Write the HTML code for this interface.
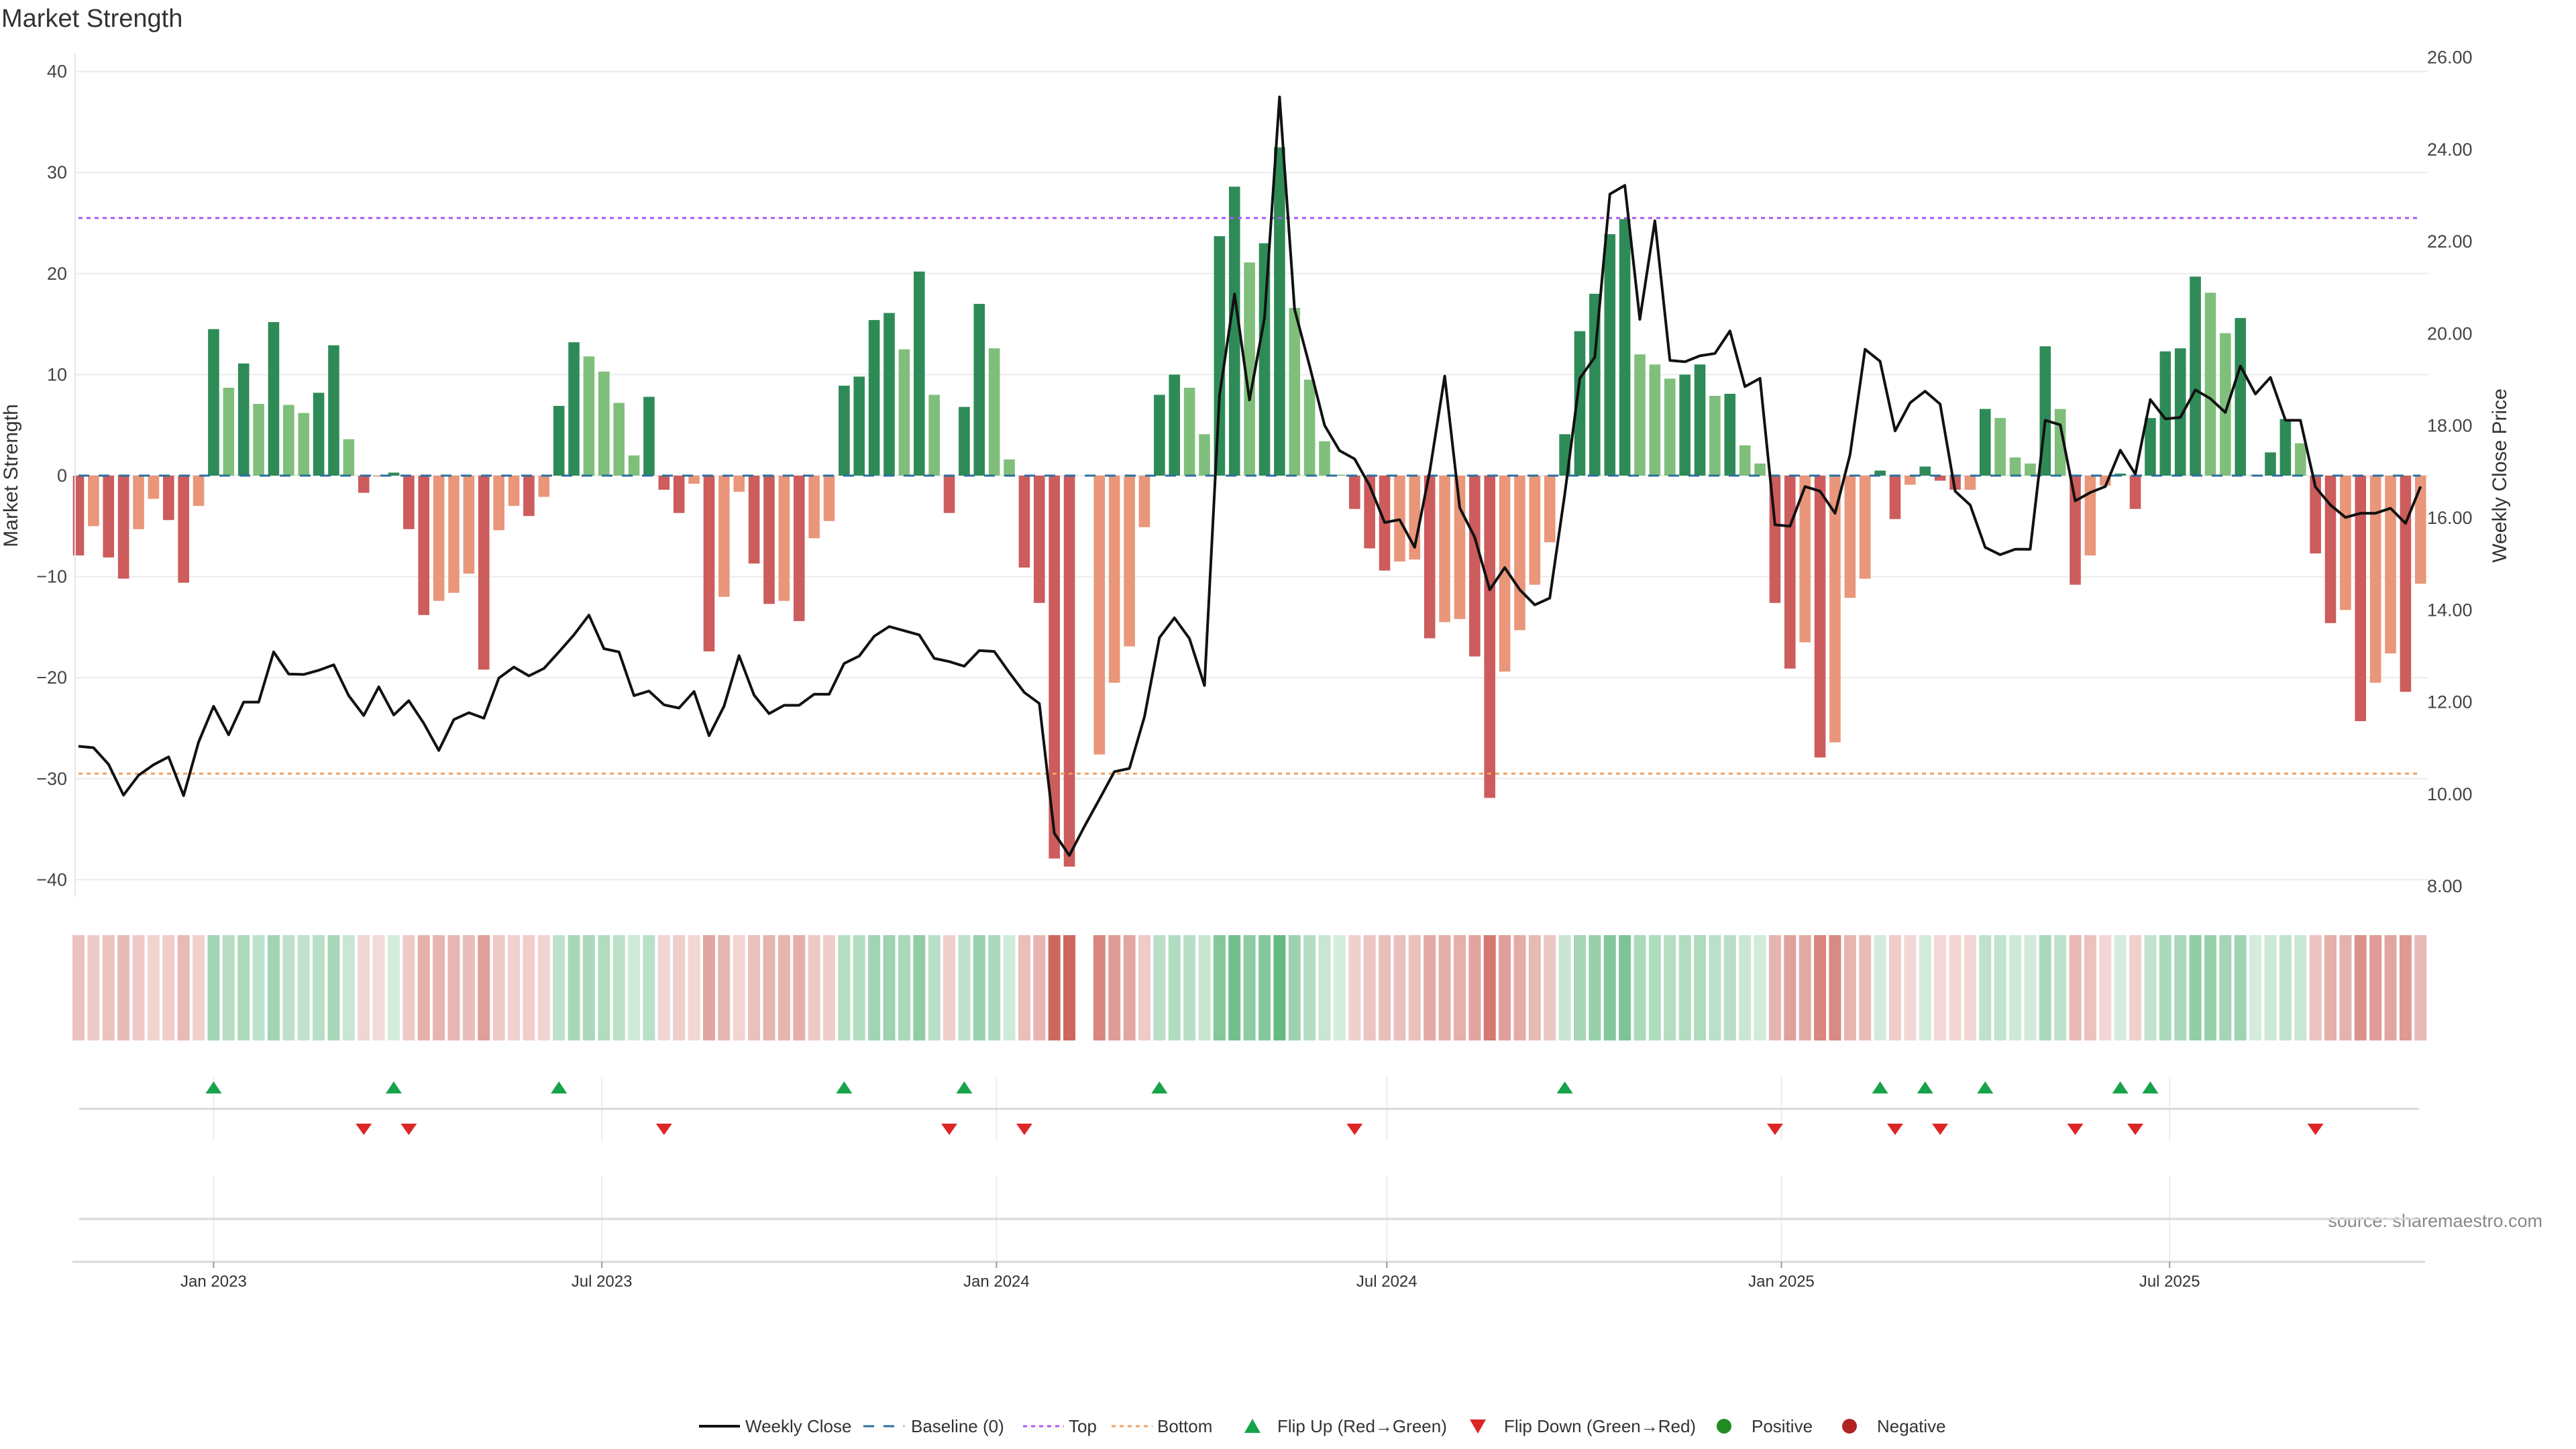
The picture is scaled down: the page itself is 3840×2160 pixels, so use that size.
<!DOCTYPE html>
<html><head><meta charset="utf-8"><title>Market Strength</title>
<style>
html,body{margin:0;padding:0;background:#fff;}
svg{display:block;font-family:"Liberation Sans",sans-serif;}
</style></head>
<body>
<svg id="chart" xmlns="http://www.w3.org/2000/svg" width="3840" height="2160" viewBox="0 0 3840 2160">
<rect x="0" y="0" width="3840" height="2160" fill="#fff"/>
<text x="2" y="40" font-size="38" fill="#333">Market Strength</text>
<text transform="translate(26,709) rotate(-90)" text-anchor="middle" font-size="30" fill="#333">Market Strength</text>
<text transform="translate(3736,709) rotate(-90)" text-anchor="middle" font-size="30" fill="#333">Weekly Close Price</text>
<text x="3790" y="1829" text-anchor="end" font-size="27" fill="#888">source: sharemaestro.com</text>
<g id="grid"></g><g id="heat"></g><g id="bars"></g><g id="refs"></g><g id="line"></g><g id="flips"></g><g id="axes"></g><g id="legend"></g>
</svg>
<script>
const strength = [-7.9,-5.0,-8.1,-10.2,-5.3,-2.3,-4.4,-10.6,-3.0,
14.5,8.7,11.1,7.1,15.2,7.0,6.2,8.2,12.9,3.6,
-1.7,-0.1,0.3,-5.3,-13.8,-12.4,-11.6,-9.7,-19.2,-5.4,
-3.0,-4.0,-2.1,6.9,13.2,11.8,10.3,7.2,2.0,7.8,
-1.4,-3.7,-0.8,-17.4,-12.0,-1.6,-8.7,-12.7,-12.4,-14.4,
-6.2,-4.5,8.9,9.8,15.4,16.1,12.5,20.2,8.0,-3.7,
6.8,17.0,12.6,1.6,-9.1,-12.6,-37.9,-38.7,null,-27.6,
-20.5,-16.9,-5.1,8.0,10.0,8.7,4.1,23.7,28.6,21.1,
23.0,32.5,16.6,9.5,3.4,0.1,-3.3,-7.2,-9.4,-8.5,
-8.3,-16.1,-14.5,-14.2,-17.9,-31.9,-19.4,-15.3,-10.8,-6.6,
4.1,14.3,18.0,23.9,25.4,12.0,11.0,9.6,10.0,11.0,
7.9,8.1,3.0,1.2,-12.6,-19.1,-16.5,-27.9,-26.4,-12.1,
-10.2,0.5,-4.3,-0.9,0.9,-0.5,-1.4,-1.4,6.6,5.7,
1.8,1.2,12.8,6.6,-10.8,-7.9,-1.0,0.2,-3.3,5.7,
12.3,12.6,19.7,18.1,14.1,15.6,0.1,2.3,5.6,3.2,
-7.7,-14.6,-13.3,-24.3,-20.5,-17.6,-21.4,-10.7];
const price = [11.04,11.01,10.65,9.98,10.41,10.64,10.81,9.97,11.13,
11.91,11.29,12.00,12.00,13.09,12.61,12.60,12.69,12.81,12.14,
11.71,12.33,11.72,12.03,11.54,10.95,11.62,11.77,11.65,12.52,
12.76,12.57,12.73,13.09,13.46,13.89,13.16,13.09,12.14,12.24,
11.94,11.87,12.23,11.27,11.91,13.01,12.15,11.75,11.93,11.93,
12.17,12.17,12.84,13.00,13.43,13.64,13.55,13.46,12.95,12.88,
12.78,13.12,13.10,12.64,12.21,11.97,9.15,8.67,9.30,9.89,
10.49,10.56,11.68,13.40,13.83,13.38,12.36,18.66,20.86,18.56,
20.34,25.14,20.53,19.30,18.01,17.46,17.28,16.70,15.90,15.96,
15.36,17.00,19.08,16.22,15.58,14.44,14.92,14.44,14.11,14.26,
16.52,19.03,19.49,23.03,23.22,20.31,22.45,19.42,19.39,19.52,
19.57,20.06,18.85,19.03,15.85,15.82,16.68,16.58,16.10,17.37,
19.66,19.40,17.89,18.50,18.75,18.47,16.58,16.28,15.36,15.20,
15.32,15.32,18.12,18.02,16.37,16.55,16.68,17.47,16.95,18.57,
18.15,18.18,18.78,18.59,18.29,19.30,18.69,19.05,18.12,18.12,
16.67,16.28,16.01,16.10,16.10,16.21,15.88,16.68];
const leftTicks = [-40,-30,-20,-10,0,10,20,30,40];
const rightTicks = [8,10,12,14,16,18,20,22,24,26];
const dateTicks = ["2023-01-01","2023-07-01","2024-01-01","2024-07-01","2025-01-01","2025-07-01"];
const dateTickLabels = ["Jan 2023","Jul 2023","Jan 2024","Jul 2024","Jan 2025","Jul 2025"];
const topLevel = 25.5;
const bottomLevel = -29.5;
const startDate = "2022-10-30";

const NS="http://www.w3.org/2000/svg";
function mk(tag,attrs,parent){const e=document.createElementNS(NS,tag);for(const k in attrs)e.setAttribute(k,attrs[k]);if(parent)document.getElementById(parent).appendChild(e);return e;}
const X0=117, STEP=22.38, PL=112, PR=3620;
const t0=Date.parse(startDate);
function xIdx(i){return X0+i*STEP;}
function xDate(s){return X0+(Date.parse(s)-t0)/(7*864e5)*STEP;}
function yL(v){return 709-v*15.06;}
function yR(p){return 772-(p-16)*68.65;}

// grid
leftTicks.forEach(t=>{
  const g=mk('line',{x1:PL,x2:PR,y1:yL(t),y2:yL(t),stroke:'#ebebeb','stroke-width':2},'grid');
  
  const tx=mk('text',{x:100,y:yL(t)+9,'text-anchor':'end','font-size':27,fill:'#444'},'axes');
  
  tx.textContent=t<0?'\u2212'+Math.abs(t):String(t);
});
rightTicks.forEach(t=>{
  const tx=mk('text',{x:3618,y:yR(t)+9,'font-size':27,fill:'#444'},'axes');
  
  tx.textContent=t.toFixed(2);
});
let ax=mk('line',{x1:PL,x2:PL,y1:80,y2:1337,stroke:'#e6e6e6','stroke-width':2},'axes');

// lower panels
[[118,3606,1653],[118,3606,1817],[108,3615,1881]].forEach((l,k)=>{
  const e=mk('line',{x1:l[0],x2:l[1],y1:l[2],y2:l[2],stroke:'#d8d8d8','stroke-width':3},'axes');
  
});
dateTicks.forEach((d,k)=>{
  const x=xDate(d);
  [[1606,1700],[1754,1881]].forEach(r=>{
    const v=mk('line',{x1:x,x2:x,y1:r[0],y2:r[1],stroke:'#ececec','stroke-width':2},'grid');
    
  });
  const tk=mk('line',{x1:x,x2:x,y1:1881,y2:1890,stroke:'#999','stroke-width':2},'axes');
  
  const tx=mk('text',{x:x,y:1918,'text-anchor':'middle','font-size':24,fill:'#333'},'axes');
  
  tx.textContent=dateTickLabels[k];
});

// bars, heatmap, flips
let prev=null;
strength.forEach((v,i)=>{
  if(v===null)return;
  const x=xIdx(i);
  const pos=v>0;
  const strong=prev===null||(prev>0)!==pos||Math.abs(v)>Math.abs(prev);
  const col=pos?(strong?'#2e8b57':'#7fbf7b'):(strong?'#cd5c5c':'#e9967a');
  const b=mk('rect',{x:x-8.3,width:16.6,y:Math.min(yL(0),yL(v)),height:Math.abs(yL(v)-yL(0)),fill:col},'bars');
  
  
  const a=0.22+0.68*Math.min(Math.abs(v)/38,1);
  const h=mk('rect',{x:x-9,width:18,y:1394,height:157,fill:pos?'#3fa864':'#c8574c','fill-opacity':a.toFixed(3)},'heat');
  
  
  if(prev!==null&&(prev>0)!==pos){
    const tri=pos?mk('polygon',{points:`${x-12},1630 ${x+12},1630 ${x},1612`,fill:'#16a34a'},'flips'):mk('polygon',{points:`${x-12},1675 ${x+12},1675 ${x},1692`,fill:'#dc2626'},'flips');
    
    
  }
  prev=v;
});
// reference lines
let r1=mk('line',{x1:X0,x2:xIdx(strength.length-1),y1:yL(0),y2:yL(0),stroke:'#2a6f9e','stroke-width':3,'stroke-dasharray':'16 14'},'refs');

let r2=mk('line',{x1:X0,x2:xIdx(strength.length-1),y1:yL(topLevel),y2:yL(topLevel),stroke:'#a855f7','stroke-width':3,'stroke-dasharray':'6 6'},'refs');

let r3=mk('line',{x1:X0,x2:xIdx(strength.length-1),y1:yL(bottomLevel),y2:yL(bottomLevel),stroke:'#f0a060','stroke-width':3,'stroke-dasharray':'6 6'},'refs');

// price line
const pts=price.map((p,i)=>xIdx(i).toFixed(1)+','+yR(p).toFixed(1)).join(' ');
const pl=mk('polyline',{points:pts,fill:'none',stroke:'#111','stroke-width':4,'stroke-linejoin':'round'},'line');



// legend
const LY=2126;
function ltext(x,s,name){const t=mk('text',{x:x,y:LY+9,'font-size':26,fill:'#333'},'legend');t.textContent=s;}
let l;
l=mk('line',{x1:1042,x2:1103,y1:LY,y2:LY,stroke:'#111','stroke-width':4},'legend');
ltext(1111,'Weekly Close','legend-weekly-close');
l=mk('line',{x1:1287,x2:1348,y1:LY,y2:LY,stroke:'#2a6f9e','stroke-width':3,'stroke-dasharray':'16 14'},'legend');
ltext(1358,'Baseline (0)','legend-baseline');
l=mk('line',{x1:1525,x2:1586,y1:LY,y2:LY,stroke:'#a855f7','stroke-width':3,'stroke-dasharray':'6 6'},'legend');
ltext(1593,'Top','legend-top');
l=mk('line',{x1:1657,x2:1718,y1:LY,y2:LY,stroke:'#f0a060','stroke-width':3,'stroke-dasharray':'6 6'},'legend');
ltext(1725,'Bottom','legend-bottom');
l=mk('polygon',{points:'1855,2136 1879,2136 1867,2115',fill:'#16a34a'},'legend');
ltext(1904,'Flip Up (Red\u2192Green)','legend-flip-up');
l=mk('polygon',{points:'2191,2116 2215,2116 2203,2137',fill:'#dc2626'},'legend');
ltext(2242,'Flip Down (Green\u2192Red)','legend-flip-down');
l=mk('circle',{cx:2570,cy:LY,r:11,fill:'#228b22'},'legend');
ltext(2611,'Positive','legend-positive');
l=mk('circle',{cx:2757,cy:LY,r:11,fill:'#b22222'},'legend');
ltext(2798,'Negative','legend-negative');
</script>
</body></html>
